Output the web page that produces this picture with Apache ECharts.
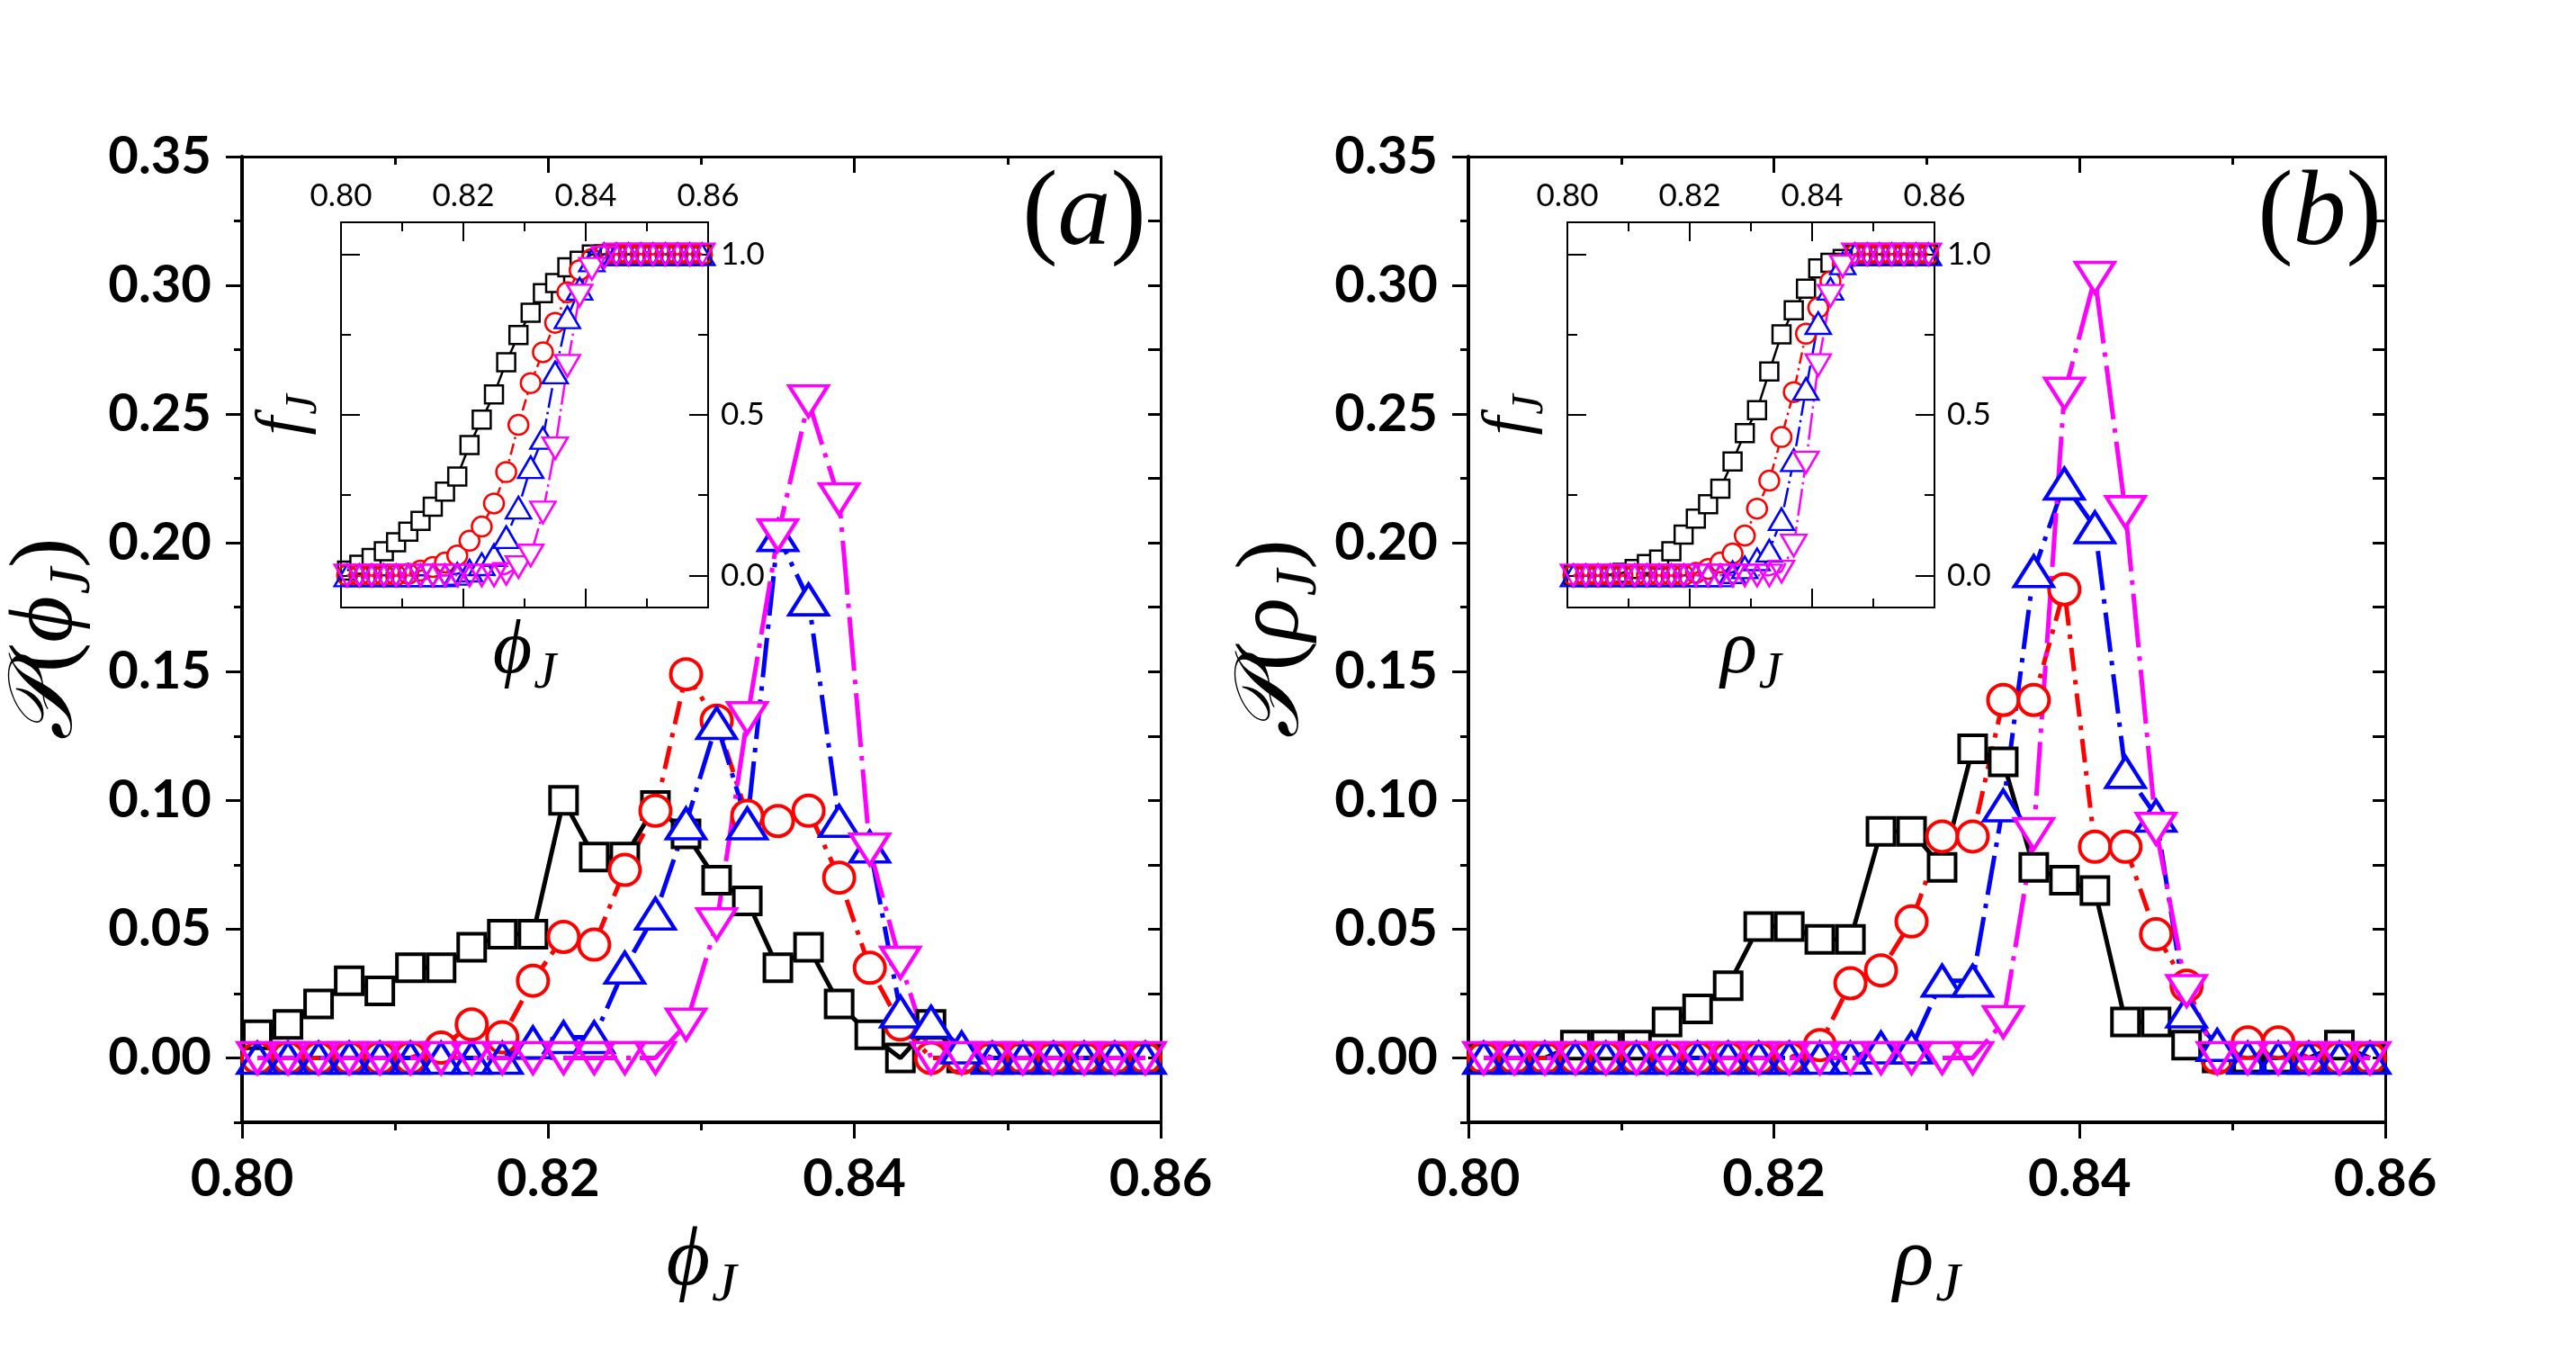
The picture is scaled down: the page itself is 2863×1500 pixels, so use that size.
<!DOCTYPE html>
<html>
<head>
<meta charset="utf-8">
<script src="https://cdn.jsdelivr.net/npm/echarts@6/dist/echarts.min.js"></script>
<style>
html, body { margin: 0; padding: 0; background: #fff; }
#chart { width: 2863px; height: 1500px; }
</style>
</head>
<body>
<div id="chart"></div>
<script>
// packing fractions where the histograms are sampled (same grid for both panels and insets)
var xPts = [0.801, 0.803, 0.805, 0.807, 0.809, 0.811, 0.813, 0.815, 0.817, 0.819,
            0.821, 0.823, 0.825, 0.827, 0.829, 0.831, 0.833, 0.835, 0.837, 0.839,
            0.841, 0.843, 0.845, 0.847, 0.849, 0.851, 0.853, 0.855, 0.857, 0.859];

// (a) P(phi_J)
var phiBlack = [0.009, 0.013, 0.021, 0.030, 0.026, 0.035, 0.035, 0.043, 0.048, 0.048,
                0.100, 0.078, 0.078, 0.098, 0.087, 0.069, 0.061, 0.035, 0.043, 0.021,
                0.009, 0.000, 0.013, 0, 0, 0, 0, 0, 0, 0];
var phiRed   = [0, 0, 0, 0, 0, 0, 0.004, 0.013, 0.008, 0.030,
                0.047, 0.044, 0.073, 0.096, 0.149, 0.131, 0.094, 0.092, 0.096, 0.070,
                0.035, 0.013, 0, 0, 0, 0, 0, 0, 0, 0];
var phiBlue  = [0, 0, 0, 0, 0, 0, 0, 0, 0, 0.006,
                0.008, 0.008, 0.035, 0.056, 0.091, 0.130, 0.091, 0.203, 0.178, 0.092,
                0.082, 0.018, 0.014, 0.004, 0, 0, 0, 0, 0, 0];
var phiMag   = [0, 0, 0, 0, 0, 0, 0, 0, 0, 0,
                0, 0, 0, 0, 0.013, 0.052, 0.132, 0.203, 0.255, 0.217,
                0.081, 0.037, 0, 0, 0, 0, 0, 0, 0, 0];

// (b) P(rho_J)
var rhoBlack = [0, 0, 0, 0.005, 0.005, 0.005, 0.014, 0.019, 0.028, 0.051,
                0.051, 0.046, 0.046, 0.088, 0.088, 0.074, 0.120, 0.115, 0.074, 0.069,
                0.065, 0.014, 0.014, 0.005, 0, 0, 0, 0, 0.005, 0];
var rhoRed   = [0, 0, 0, 0, 0, 0, 0, 0, 0, 0,
                0, 0.005, 0.029, 0.034, 0.053, 0.086, 0.086, 0.139, 0.139, 0.182,
                0.082, 0.082, 0.048, 0.028, 0, 0.006, 0.006, 0, 0, 0];
var rhoBlue  = [0, 0, 0, 0, 0, 0, 0, 0, 0, 0,
                0, 0, 0, 0.004, 0.004, 0.030, 0.030, 0.098, 0.189, 0.223,
                0.206, 0.111, 0.094, 0.018, 0.005, 0, 0, 0, 0, 0];
var rhoMag   = [0, 0, 0, 0, 0, 0, 0, 0, 0, 0,
                0, 0, 0, 0, 0, 0, 0, 0.014, 0.087, 0.258,
                0.303, 0.212, 0.089, 0.026, 0, 0, 0, 0, 0, 0];

// insets: f_J
var insPhiBlack = [0.015, 0.033, 0.054, 0.075, 0.103, 0.136, 0.170, 0.214, 0.261, 0.308,
                   0.406, 0.485, 0.564, 0.664, 0.749, 0.818, 0.879, 0.911, 0.960, 0.980,
                   1, 1, 1, 1, 1, 1, 1, 1, 1, 1];
var insPhiRed   = [0, 0, 0, 0, 0, 0.005, 0.015, 0.026, 0.040, 0.062,
                   0.108, 0.152, 0.224, 0.322, 0.469, 0.599, 0.695, 0.787, 0.882, 0.951,
                   0.986, 1, 1, 1, 1, 1, 1, 1, 1, 1];
var insPhiBlue  = [0, 0, 0, 0, 0, 0, 0, 0, 0, 0.005,
                   0.015, 0.035, 0.063, 0.119, 0.211, 0.337, 0.428, 0.632, 0.804, 0.893,
                   0.981, 1, 1, 1, 1, 1, 1, 1, 1, 1];
var insPhiMag   = [0, 0, 0, 0, 0, 0, 0, 0, 0, 0,
                   0, 0, 0, 0.005, 0.026, 0.062, 0.196, 0.396, 0.653, 0.872,
                   0.955, 0.990, 1, 1, 1, 1, 1, 1, 1, 1];

var insRhoBlack = [0, 0, 0, 0.003, 0.008, 0.020, 0.035, 0.049, 0.075, 0.127,
                   0.177, 0.222, 0.270, 0.355, 0.443, 0.515, 0.635, 0.751, 0.826, 0.893,
                   0.956, 0.974, 0.986, 1, 1, 1, 1, 1, 1, 1];
var insRhoRed   = [0, 0, 0, 0, 0, 0, 0, 0, 0, 0,
                   0.008, 0.020, 0.040, 0.068, 0.124, 0.208, 0.295, 0.431, 0.571, 0.753,
                   0.834, 0.916, 0.970, 1, 1, 1, 1, 1, 1, 1];
var insRhoBlue  = [0, 0, 0, 0, 0, 0, 0, 0, 0, 0,
                   0, 0, 0, 0.010, 0.025, 0.050, 0.077, 0.175, 0.359, 0.581,
                   0.786, 0.893, 0.972, 1, 1, 1, 1, 1, 1, 1];
var insRhoMag   = [0, 0, 0, 0, 0, 0, 0, 0, 0, 0,
                   0, 0, 0, 0, 0, 0, 0, 0.012, 0.093, 0.352,
                   0.655, 0.871, 0.963, 1, 1, 1, 1, 1, 1, 1];

// tick labels
var mainYTicks = [0, 0.05, 0.10, 0.15, 0.20, 0.25, 0.30, 0.35];
var insetYTicks = [0, 0.5, 1.0];
var insetYMinor = [0.25, 0.75];

var TICK_FONT = 'Lato';
var MATH_FONT = 'Liberation Serif';

var styles = [
    { color: '#000000', symbol: 'rect',     big: 30,       small: 20,       dash: 'solid' },
    { color: '#ff0000', symbol: 'circle',   big: 34,       small: 22,       dash: [26, 10, 5, 10] },
    { color: '#0000ff', symbol: 'triangle', big: [43, 34], small: [28, 24], dash: [44, 10, 5, 10] },
    { color: '#ff00ff', symbol: 'triangle', big: [43, 34], small: [28, 24], dash: [60, 10, 5, 10], rotate: 180 }
];

function mathName(sym, big, small, wrap) {
    var txt = wrap ? '{u|(}{v|' + sym + '}{s|J}{u|)}' : '{v|' + sym + '}{s|J}';
    return {
        text: txt,
        rich: {
            v: { fontFamily: MATH_FONT, fontStyle: 'italic', fontSize: big, color: '#000', verticalAlign: 'bottom', padding: [0, 2, Math.round(big * 0.12), 0] },
            u: { fontFamily: MATH_FONT, fontSize: big, color: '#000', verticalAlign: 'bottom', padding: [0, 0, Math.round(big * 0.12), 0] },
            s: { fontFamily: MATH_FONT, fontStyle: 'italic', fontSize: small, color: '#000', verticalAlign: 'bottom' }
        }
    };
}

var xAxes = [];
var yAxes = [];

function addMainAxes(g, sym) {
    var xn = mathName(sym, 94, 62, false);
    var xi = xAxes.length;
    xAxes.push({
        gridIndex: g, type: 'value', position: 'bottom', min: 0.8, max: 0.86, interval: 0.02,
        axisLine: { show: true, onZero: false, lineStyle: { color: '#000', width: 4 } },
        axisTick: { show: true, inside: false, length: 18, lineStyle: { color: '#000', width: 3 } },
        minorTick: { show: true, splitNumber: 2, length: 9, lineStyle: { color: '#000', width: 3 } },
        axisLabel: { fontFamily: TICK_FONT, fontSize: 58, fontWeight: 'bold', color: '#000', margin: 34,
                     formatter: function (v) { return v.toFixed(2); } },
        splitLine: { show: false },
        name: xn.text, nameLocation: 'middle', nameGap: 108,
        nameTextStyle: { rich: xn.rich }
    });
    xAxes.push({
        gridIndex: g, type: 'value', position: 'top', min: 0.8, max: 0.86, interval: 0.02,
        axisLine: { show: true, onZero: false, lineStyle: { color: '#000', width: 3 } },
        axisTick: { show: true, inside: true, length: 18, lineStyle: { color: '#000', width: 3 } },
        minorTick: { show: true, splitNumber: 2, length: 9, lineStyle: { color: '#000', width: 3 } },
        axisLabel: { show: false }, splitLine: { show: false }
    });
    var yn = mathName(sym, 100, 66, true);
    yn.text = '{p|\uD835\uDCAB}' + yn.text;
    yn.rich.p = { fontFamily: MATH_FONT, fontStyle: 'italic', fontSize: 100, color: '#000', verticalAlign: 'bottom', padding: [0, 4, 12, 0] };
    var yi = yAxes.length;
    yAxes.push({
        gridIndex: g, type: 'value', position: 'left', min: -0.025, max: 0.35, interval: 0.025,
        axisLine: { show: true, onZero: false, lineStyle: { color: '#000', width: 4 } },
        axisTick: { show: true, inside: false, length: 18, customValues: mainYTicks, lineStyle: { color: '#000', width: 3 } },
        axisLabel: { fontFamily: TICK_FONT, fontSize: 58, fontWeight: 'bold', color: '#000', margin: 34,
                     customValues: mainYTicks, formatter: function (v) { return v.toFixed(2); } },
        splitLine: { show: false },
        name: yn.text, nameLocation: 'middle', nameGap: 154,
        nameTextStyle: { rich: yn.rich }
    });
    yAxes.push({
        gridIndex: g, type: 'value', position: 'left', min: -0.025, max: 0.35, interval: 0.025,
        axisLine: { show: false, onZero: false },
        axisTick: { show: true, inside: false, length: 9, lineStyle: { color: '#000', width: 3 } },
        axisLabel: { show: false }, splitLine: { show: false }
    });
    yAxes.push({
        gridIndex: g, type: 'value', position: 'right', min: -0.025, max: 0.35, interval: 0.025,
        axisLine: { show: true, onZero: false, lineStyle: { color: '#000', width: 3 } },
        axisTick: { show: true, inside: true, length: 14, lineStyle: { color: '#000', width: 3 } },
        axisLabel: { show: false }, splitLine: { show: false }
    });
    return { x: xi, y: yi };
}

function addInsetAxes(g, sym) {
    var tick = { color: '#000', width: 2 };
    var xn = mathName(sym, 84, 56, false);
    var xi = xAxes.length;
    xAxes.push({
        gridIndex: g, type: 'value', position: 'top', min: 0.8, max: 0.86, interval: 0.02,
        axisLine: { show: true, onZero: false, lineStyle: tick },
        axisTick: { show: true, inside: true, length: 21, lineStyle: tick },
        minorTick: { show: true, splitNumber: 2, length: 10, lineStyle: tick },
        axisLabel: { fontFamily: TICK_FONT, fontSize: 35, color: '#000', margin: 12,
                     formatter: function (v) { return v.toFixed(2); } },
        splitLine: { show: false }
    });
    xAxes.push({
        gridIndex: g, type: 'value', position: 'bottom', min: 0.8, max: 0.86, interval: 0.02,
        axisLine: { show: true, onZero: false, lineStyle: tick },
        axisTick: { show: true, inside: true, length: 21, lineStyle: tick },
        minorTick: { show: true, splitNumber: 2, length: 10, lineStyle: tick },
        axisLabel: { show: false }, splitLine: { show: false },
        name: xn.text, nameLocation: 'middle', nameGap: 8,
        nameTextStyle: { rich: xn.rich }
    });
    var fn = { text: '{v|f}{s|J}', rich: {
        v: { fontFamily: MATH_FONT, fontStyle: 'italic', fontSize: 74, color: '#000', verticalAlign: 'bottom', padding: [0, 2, 10, 0] },
        s: { fontFamily: MATH_FONT, fontStyle: 'italic', fontSize: 50, color: '#000', verticalAlign: 'bottom' } } };
    var yi = yAxes.length;
    yAxes.push({
        gridIndex: g, type: 'value', position: 'left', min: -0.1, max: 1.1,
        axisLine: { show: true, onZero: false, lineStyle: tick },
        axisTick: { show: true, inside: true, length: 21, customValues: insetYTicks, lineStyle: tick },
        axisLabel: { show: false }, splitLine: { show: false },
        name: fn.text, nameLocation: 'middle', nameGap: 16,
        nameTextStyle: { rich: fn.rich }
    });
    yAxes.push({
        gridIndex: g, type: 'value', position: 'left', min: -0.1, max: 1.1,
        axisLine: { show: false, onZero: false },
        axisTick: { show: true, inside: true, length: 11, customValues: insetYMinor, lineStyle: tick },
        axisLabel: { show: false }, splitLine: { show: false }
    });
    yAxes.push({
        gridIndex: g, type: 'value', position: 'right', min: -0.1, max: 1.1,
        axisLine: { show: true, onZero: false, lineStyle: tick },
        axisTick: { show: true, inside: true, length: 21, customValues: insetYTicks, lineStyle: tick },
        axisLabel: { fontFamily: TICK_FONT, fontSize: 35, color: '#000', margin: 14,
                     customValues: insetYTicks, formatter: function (v) { return v.toFixed(1); } },
        splitLine: { show: false }
    });
    yAxes.push({
        gridIndex: g, type: 'value', position: 'right', min: -0.1, max: 1.1,
        axisLine: { show: false, onZero: false },
        axisTick: { show: true, inside: true, length: 11, customValues: insetYMinor, lineStyle: tick },
        axisLabel: { show: false }, splitLine: { show: false }
    });
    return { x: xi, y: yi };
}

function curve(ax, ys, st, inset) {
    var pts = [];
    for (var i = 0; i < xPts.length; i++) {
        // hollow symbols on the crowded floor / plateau, white-filled elsewhere so the
        // series' own line appears to stop at the symbol as in the original
        var crowded = inset ? (ys[i] < 0.02 || ys[i] > 0.98) : ys[i] < 0.003;
        pts.push({
            value: [xPts[i], ys[i]],
            itemStyle: { color: crowded ? 'rgba(255,255,255,0)' : '#ffffff' }
        });
    }
    var dash = st.dash;
    if (inset && dash !== 'solid') {
        dash = dash.map(function (d) { return d / 2; });
    }
    return {
        type: 'line',
        xAxisIndex: ax.x,
        yAxisIndex: ax.y,
        data: pts,
        symbol: st.symbol,
        symbolRotate: st.rotate || 0,
        symbolSize: inset ? st.small : st.big,
        showAllSymbol: true,
        clip: false,
        lineStyle: { color: st.color, width: inset ? 2.5 : 5, type: dash },
        itemStyle: { borderColor: st.color, borderWidth: inset ? 2.5 : 4 },
        emphasis: { disabled: true }
    };
}

var axA = addMainAxes(0, '\u03D5');
var axAi = addInsetAxes(1, '\u03D5');
var axB = addMainAxes(2, '\u03C1');
var axBi = addInsetAxes(3, '\u03C1');

var series = [];
[phiBlack, phiRed, phiBlue, phiMag].forEach(function (d, i) { series.push(curve(axA, d, styles[i], false)); });
[insPhiBlack, insPhiRed, insPhiBlue, insPhiMag].forEach(function (d, i) { series.push(curve(axAi, d, styles[i], true)); });
[rhoBlack, rhoRed, rhoBlue, rhoMag].forEach(function (d, i) { series.push(curve(axB, d, styles[i], false)); });
[insRhoBlack, insRhoRed, insRhoBlue, insRhoMag].forEach(function (d, i) { series.push(curve(axBi, d, styles[i], true)); });

function panelTag(letter, cx, cy) {
    return {
        type: 'text', x: cx, y: cy, z: 100,
        style: {
            text: '{p|(}{i|' + letter + '}{p|)}',
            align: 'center', verticalAlign: 'middle',
            rich: {
                p: { fontFamily: MATH_FONT, fontSize: 118, fill: '#000' },
                i: { fontFamily: MATH_FONT, fontStyle: 'italic', fontSize: 118, fill: '#000' }
            }
        }
    };
}

var chart = echarts.init(document.getElementById('chart'));
chart.setOption({
    animation: false,
    backgroundColor: '#ffffff',
    grid: [
        { left: 269, top: 174, width: 1021, height: 1073, outerBoundsMode: 'none' },
        { left: 379, top: 247, width: 408, height: 428, outerBoundsMode: 'none', show: true, backgroundColor: '#fff', borderWidth: 0 },
        { left: 1632, top: 174, width: 1019, height: 1073, outerBoundsMode: 'none' },
        { left: 1742, top: 247, width: 408, height: 428, outerBoundsMode: 'none', show: true, backgroundColor: '#fff', borderWidth: 0 }
    ],
    xAxis: xAxes,
    yAxis: yAxes,
    series: series,
    graphic: [panelTag('a', 1205, 240), panelTag('b', 2578, 240)]
});
window.onresize = function () { chart.resize(); };
</script>
</body>
</html>
